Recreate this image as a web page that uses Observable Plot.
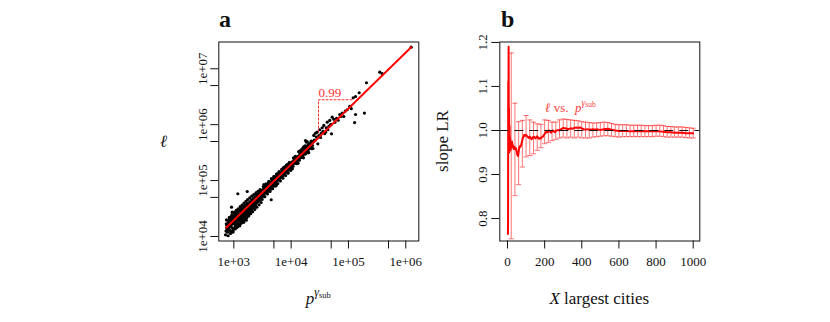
<!DOCTYPE html>
<html><head><meta charset="utf-8">
<script src="https://cdn.jsdelivr.net/npm/d3@7"></script>
<script src="https://cdn.jsdelivr.net/npm/@observablehq/plot@0.6"></script>
<style>
body{margin:0;background:#fff;}
#wrap{position:relative;width:830px;height:322px;overflow:hidden;background:#fff;}
#wrap svg{position:absolute;top:0;}
</style></head><body><div id="wrap"></div>
<script>
// ---------- Panel a data: [p^gamma_sub, l] ----------
const smallTowns = [
[730,12500],[760,15800],[780,11900],[800,18200],[810,13600],[830,16500],[850,20500],[860,12800],[880,15100],[900,19000],
[910,22800],[930,14200],[950,17600],[960,20400],[980,13700],[1000,16900],[1010,22100],[1030,25600],[1050,18700],[1060,15200],
[1080,20800],[1100,23600],[1120,17100],[1130,27900],[1150,19900],[1170,22600],[1190,16400],[1200,25100],[1220,18600],[1240,21300],
[1260,29800],[1280,24200],[1300,19300],[1320,27400],[1340,22900],[1360,31600],[1390,25700],[1410,20300],[1430,29100],[1460,24600],
[1480,34200],[1500,27800],[1530,22700],[1550,31900],[1580,36800],[1600,26900],[1630,30400],[1660,24800],[1690,35700],[1710,32100],
[1740,39200],[1770,28600],[1800,33900],[1830,37800],[1860,27300],[1900,41600],[1930,34700],[1960,31200],[2000,38900],[2040,45300],
[2080,35600],[2120,41800],[2150,32800],[2200,47900],[2240,39700],[2280,44600],[2320,36300],[2370,51200],[2410,42800],[2460,48100],
[2500,56200],[2550,40900],[2600,50300],[2650,45800],[2700,58400],[2760,43200],[2820,53700],[2880,62100],[2940,49500],[3000,57800],
[750,14300],[790,17100],[870,18100],[920,16400],[990,19600],[1040,13900],[1070,24100],[1110,19800],[1140,14600],[1180,21400],
[1210,28300],[1250,16300],[1290,21800],[1350,26000],[1370,18000],[1420,23700],[1470,19700],[1520,25200],[1560,20100],[1620,33400],
[1650,28900],[1700,23000],[1750,33000],[1790,25300],[1850,30400],[1880,35800],[1950,29100],[2020,33700],[2100,38400],[2180,43300],
[2260,34000],[2350,46300],[2430,38600],[2530,45600],[2620,41800],[2730,52000],[2850,47500],[2970,54000],
[740,16900],[770,13400],[820,19600],[840,14900],[890,21400],[940,18500],[970,23300],[1020,17800],[1090,15700],[1160,25800],
[1230,20700],[1270,15500],[1310,24500],[1380,30200],[1400,21900],[1450,27000],[1490,17900],[1540,29200],[1590,23400],[1640,21100],
[1680,31400],[1720,26700],[1780,36900],[1820,23500],[1870,32800],[1910,27600],[1980,35500],[2060,30100],[2140,36600],[2210,40300],
[2300,41100],[2390,35000],[2480,44000],[2580,52600],[2680,48700],[2790,45100],[2900,58900],[960,11900],[1320,33500],[1650,19500],
[745,19800],[795,10300],[835,21900],[875,11300],[925,24400],[975,12600],[1025,26900],[1065,13700],[1105,29400],[1155,14900],
[1195,31300],[1245,15800],[1295,34100],[1345,17200],[1395,36500],[1445,18600],[1505,39600],[1565,20100],[1625,42300],[1685,21800],
[1745,45700],[1815,23300],[1895,48900],[1975,25500],[2055,52500],[2135,27700],[2225,56000],[2325,30500],[2425,60000],[2525,33300],
[2635,64400],[2755,36800],[2875,69000],[2990,40500],
[765,14500],[815,15300],[865,17400],[915,18800],[965,17000],[1015,20300],[1075,19100],[1135,22300],[1195,20000],[1265,23800],
[1335,24400],[1405,25800],[1485,27400],[1575,28100],[1665,30400],[1765,31800],[1865,34500],[1965,37400],[2075,38000],[2195,40700],
[2315,44100],[2445,45900],[2575,48400],[2715,50500],[2865,53600],
[716,10700],[887,12300],[1175,58100],[1713,63800],[912,33400],[1115,29200],[938,27200],[4490,45400]
];
const midTowns = [
[3100,55800],[3150,67400],[3200,52100],[3260,63900],[3320,74100],[3380,57800],[3450,69000],[3520,61600],[3580,78800],[3650,66100],
[3720,74200],[3800,60800],[3870,84300],[3950,73100],[4030,67700],[4100,86100],[4180,79800],[4260,71600],[4350,93100],[4440,83500],
[4530,76100],[4620,99800],[4720,88300],[4820,97400],[4920,80700],[5030,104000],[5140,94600],[5250,112000],[5370,91300],[5490,107000],
[5610,121000],[5740,99300],[5870,114000],[6000,127000],[6140,105000],[6290,123000],[6440,137000],[6590,113000],[6750,131000],[6910,146000],
[7080,122000],[7250,140000],[7430,157000],[7610,131000],[7800,152000],[8000,169000],[8200,141000],[8410,163000],[8620,180000],[8840,152000],
[9070,177000],[9300,193000],[9540,165000],[9790,188000],[10000,206000],
[3230,60000],[3420,75100],[3690,71500],[3910,64800],[4210,89500],[4480,92500],[4780,84100],[5080,115000],[5420,101000],[5800,126000],
[6220,113000],[6670,140000],[7160,152000],[7700,139000],[8300,175000],[8950,167000],[9650,199000],
[3350,85000],[5500,82000],[7300,168000],[8800,136000],
[3050,64000],[3300,52500],[3600,82500],[4000,90000],[4400,70500],[4900,108000],[5300,89000],[5650,131000],[6100,138000],[6500,118000],
[7000,158000],[7500,128000],[8100,182000],[8500,148000],[9200,205000],[9900,172000],
[3120,46000],[3280,78000],[3470,51500],[3660,87000],[3860,57500],[4070,97000],[4290,64000],[4520,108000],[4760,71500],[5010,119000],
[5280,79500],[5560,131000],[5850,88500],[6160,144000],[6490,98500],[6840,159000],[7200,110000],[7590,175000],[8000,123000],[8430,193000],
[8880,137000],[9360,212000],[9850,152000],
[3180,58800],[3540,67200],[3760,69600],[4140,76600],[4570,84600],[5190,99700],[5960,111000],[6830,126000],[7860,143000],[9010,165000],
[3400,64700],[4660,90000],[6350,118000],[8660,162000]
];
const towns = [
[10300,184000],[10600,218000],[10900,199000],[11200,233000],[11500,204000],[11900,241000],[12200,222000],[12600,262000],[13000,231000],[13400,274000],
[13800,251000],[14300,292000],[14700,258000],[15200,311000],[15700,283000],[16200,334000],[16700,299000],[17300,352000],[17900,318000],[18500,376000],
[19100,339000],[19800,405000],[20500,368000],[21200,429000],[22000,391000],[22800,462000],[23600,424000],[24500,496000],
[11000,255000],[12800,205000],[14000,318000],[16000,262000],[18000,402000],[19500,316000],[21000,470000],[23000,372000],[12000,263000],[15000,275000],
[17000,380000],[20000,440000],[13500,330000],[15500,370000],[17500,420000],[19000,500000],[16500,400000],[14500,345000],[17800,521000],[18500,486000],
[10500,163000],[11800,270000],[13200,205000],[14800,338000],[16400,255000],[18200,415000],[20200,316000],[22400,510000],[24000,375000],[25300,530000],
[10800,180000],[12400,200000],[13900,232000],[15600,262000],[17600,296000],[19700,333000],[22200,378000]
];
const cities = [
[24800,641000],[26000,520000],[26600,705000],[27500,600000],[28500,735000],[29200,455000],[30500,640000],[31600,811000],[32500,590000],[33500,700000],
[34800,881000],[36000,760000],[37200,968000],[38500,690000],[39800,735000],[41000,880000],[42600,1110000],[43700,811000],[45500,930000],[47200,1190000],
[48500,990000],[50000,1010000],[50600,687000],[52000,1360000],[55500,1250000],[58000,1100000],[62000,1300000],[66000,1200000],[70600,1520000],[74000,1400000],
[77800,1610000],[83000,1400000],[88000,1750000],[95000,1850000]
];
const bigCities = [
[105000,2120000],[112000,1930000],[121000,3030000],[128000,1090000],[133000,3190000],[133000,1520000],[154000,3720000],[190000,1610000],
[206000,5620000],[352000,8690000],[387000,8150000],[1242000,24300000]
];
const fitPop = [736, 1242000];
const fitLen = [14320, 24300000];
const slopeMarkPop = [30000, 30000, 116000];
const slopeMarkLen = [735000, 2790000, 2790000];
const slopeText = ["0.99"];
const aXTicks = [1e3, 5e3, 1e4, 5e4, 1e5, 5e5, 1e6];
const aXTickLabels = ["1e+03", "", "1e+04", "", "1e+05", "", "1e+06"];
const aYTicks = [1e4, 5e4, 1e5, 5e5, 1e6, 5e6, 1e7];
const aYTickLabels = ["1e+04", "", "1e+05", "", "1e+06", "", "1e+07"];

// ---------- Panel b data ----------
const slopeSeries = [
[2,.765],[3,.79],[4,1.11],[5,1.03],[6,1.19],[7,.99],[8,1.05],[9,.95],[10,.99],[11,1.01],[12,.955],[13,.985],[14,.965],[15,.975],[16,.955],[17,.97],[18,.96],[19,.972],[20,.962],
[22,.968],[24,.975],[26,.97],[28,.962],[30,.966],[33,.958],[36,.963],[39,.962],[42,.958],[45,.96],[48,.955],[51,.948],[54,.944],[57,.942],[60,.952],[63,.96],[66,.964],
[70,.963],[74,.968],[78,.975],[82,.982],[86,.986],[90,.99],[95,.988],[100,.99],[105,.987],[110,.985],[115,.983],[120,.986],[125,.984],[130,.98],[135,.983],[140,.986],
[145,.985],[150,.982],[155,.984],[160,.987],[165,.983],[170,.981],[175,.983],[180,.982],[185,.985],[190,.986],[195,.989],[200,.992],[205,.995],[210,.997],[215,.996],
[220,.998],[225,1.0],[230,.997],[235,.995],[240,.998],[245,1.0],[250,.998],[255,.996],[260,.999],[270,1.001],[280,1.0],[290,1.003],[300,1.006],[310,1.005],[320,1.004],
[330,1.003],[340,1.005],[350,1.004],[360,1.006],[370,1.007],[380,1.006],[390,1.007],[400,1.005],[410,1.003],[420,1.002],[430,1.003],[440,1.002],[450,1.002],[460,1.003],
[470,1.002],[480,1.002],[490,1.002],[500,1.001],[520,1.003],[540,1.004],[560,1.002],[580,1.0],[600,.999],[620,.999],[640,.999],[660,.998],[680,.998],[700,.998],
[720,.998],[740,.998],[760,.998],[780,.998],[800,.999],[820,.998],[840,.997],[860,.996],[880,.996],[900,.995],[920,.995],[940,.995],[960,.994],[980,.994],[1000,.994]
];
const errorBars = [
[20,.754,1.176],[40,.852,1.062],[60,.877,1.020],[80,.917,1.023],[100,.940,1.034],[120,.943,1.024],[140,.947,1.019],[160,.955,1.015],[180,.961,1.014],[200,.970,1.024],
[220,.973,1.023],[240,.977,1.019],[260,.980,1.019],[280,.983,1.024],[300,.985,1.026],[320,.983,1.025],[340,.985,1.024],[360,.983,1.023],[380,.985,1.022],[400,.983,1.020],
[420,.983,1.019],[440,.983,1.018],[460,.985,1.017],[480,.986,1.017],[500,.987,1.018],[520,.988,1.019],[540,.988,1.018],[560,.987,1.016],[580,.986,1.014],[600,.985,1.013],
[620,.986,1.013],[640,.986,1.013],[660,.986,1.012],[680,.986,1.012],[700,.986,1.012],[720,.986,1.012],[740,.986,1.011],[760,.986,1.011],[780,.986,1.011],[800,.987,1.012],
[820,.987,1.012],[840,.986,1.011],[860,.985,1.009],[880,.985,1.009],[900,.985,1.008],[920,.985,1.008],[940,.985,1.008],[960,.984,1.007],[980,.983,1.006],[1000,.983,1.005]
];
const refSlope = [1];
const bLabelPos = [204.6, 1.0416];
const bXTicks = [0, 200, 400, 600, 800, 1000];
const bXTickLabels = ["0", "200", "400", "600", "800", "1000"];
const bYTicks = [0.8, 0.9, 1.0, 1.1, 1.2];
const bYTickLabels = ["0.8", "0.9", "1.0", "1.1", "1.2"];

// ---------- helpers ----------
const FONT = "'Liberation Serif', 'Times New Roman', serif";
const styleBase = {fontFamily: FONT, fontSize: "13px", color: "#111", background: "transparent", overflow: "visible"};
function labeller(ticks, labels) { const m = new Map(ticks.map((t, i) => [t, labels[i]])); return d => m.get(d) ?? ""; }
function addText(svg, opt, parts) {
  const t = d3.select(svg).append("text")
    .attr("x", opt.x).attr("y", opt.y)
    .attr("text-anchor", opt.anchor || "middle")
    .attr("font-family", FONT)
    .attr("fill", opt.fill || "#111")
    .attr("font-size", opt.size || 17);
  if (opt.weight) t.attr("font-weight", opt.weight);
  if (opt.rotate) t.attr("transform", `rotate(${opt.rotate},${opt.x},${opt.y})`);
  for (const p of parts) {
    const s = t.append("tspan").text(p.t);
    if (p.size) s.attr("font-size", p.size);
    if (p.italic) s.attr("font-style", "italic");
    if (p.dy) s.attr("dy", p.dy);
    if (p.dx) s.attr("dx", p.dx);
  }
  return t;
}
const capSymbol = {draw(ctx) { ctx.moveTo(-2.6, 0); ctx.lineTo(2.6, 0); }};

// ---------- Panel a ----------
const scatter = smallTowns.concat(midTowns, towns, cities, bigCities);
const fitRows = fitPop.map((p, i) => ({p, l: fitLen[i]}));
const markRows = slopeMarkPop.map((p, i) => ({p, l: slopeMarkLen[i]}));

const svgA = Plot.plot({
  width: 280, height: 322,
  marginLeft: 68.3, marginRight: 11.7, marginTop: 41.5, marginBottom: 81.5,
  style: styleBase,
  x: {type: "log", domain: [547, 1.687e6]},
  y: {type: "log", domain: [8300, 3.01e7]},
  marks: [
    Plot.dot(scatter, {x: d => d[0], y: d => d[1], r: 1.6, fill: "#000", stroke: "none"}),
    Plot.line(fitRows, {x: "p", y: "l", stroke: "#ff0000", strokeWidth: 1.9}),
    Plot.line(markRows, {x: "p", y: "l", stroke: "#ff2a2a", strokeWidth: 1, strokeDasharray: "2,2"}),
    Plot.text(slopeText, {x: [slopeMarkPop[1]], y: [slopeMarkLen[1]], text: d => d, textAnchor: "start", lineAnchor: "bottom", dy: -2.6, fill: "#ff3333", fontSize: 13}),
    Plot.frame({stroke: "#111", strokeWidth: 1}),
    Plot.axisX({ticks: aXTicks, tickFormat: labeller(aXTicks, aXTickLabels), tickSize: 8, tickPadding: 8, label: null, fontSize: 13, stroke: "#111"}),
    Plot.axisY({ticks: aYTicks, tickFormat: labeller(aYTicks, aYTickLabels), tickSize: 8, tickPadding: 3.5, tickRotate: -90, textAnchor: "middle", lineAnchor: "bottom", label: null, fontSize: 13, stroke: "#111"})
  ]
});
svgA.style.left = "150px";
document.getElementById("wrap").appendChild(svgA);
addText(svgA, {x: 69, y: 26.5, anchor: "start", size: 24, weight: "bold"}, [{t: "a"}]);
addText(svgA, {x: 13.5, y: 146.5, size: 17}, [{t: "ℓ", italic: true}]);
addText(svgA, {x: 168.3, y: 303.5, size: 17}, [{t: "p", italic: true}, {t: "γ", size: 12, italic: true, dy: -7.5}, {t: "sub", size: 8.5, dy: 1.5}]);

// ---------- Panel b ----------
const lineRows = slopeSeries.map(d => ({n: d[0], s: d[1]}));
const barRows = errorBars.map(d => ({n: d[0], lo: d[1], hi: d[2]}));
const svgB = Plot.plot({
  width: 290, height: 322,
  marginLeft: 69.3, marginRight: 20.7, marginTop: 41.5, marginBottom: 81.5,
  style: styleBase,
  x: {domain: [-41.5, 1035.5]},
  y: {domain: [0.749, 1.201]},
  marks: [
    Plot.ruleX(barRows, {x: "n", y1: "lo", y2: "hi", stroke: "#ff0000", strokeOpacity: 0.55, strokeWidth: 1}),
    Plot.dot(barRows, {x: "n", y: "lo", symbol: capSymbol, stroke: "#ff0000", strokeOpacity: 0.55, fill: "none", strokeWidth: 1}),
    Plot.dot(barRows, {x: "n", y: "hi", symbol: capSymbol, stroke: "#ff0000", strokeOpacity: 0.55, fill: "none", strokeWidth: 1}),
    Plot.line(lineRows, {x: "n", y: "s", stroke: "#ff0000", strokeWidth: 2}),
    Plot.ruleY(refSlope, {stroke: "#111", strokeWidth: 1, strokeDasharray: "9,6"}),
    Plot.frame({stroke: "#111", strokeWidth: 1}),
    Plot.axisX({ticks: bXTicks, tickFormat: labeller(bXTicks, bXTickLabels), tickSize: 8, tickPadding: 8, label: null, fontSize: 13, stroke: "#111"}),
    Plot.axisY({ticks: bYTicks, tickFormat: labeller(bYTicks, bYTickLabels), tickSize: 8, tickPadding: 4.5, tickRotate: -90, textAnchor: "middle", lineAnchor: "bottom", label: null, fontSize: 13, stroke: "#111"})
  ]
});
svgB.style.left = "430px";
document.getElementById("wrap").appendChild(svgB);
addText(svgB, {x: 71, y: 26.5, anchor: "start", size: 24, weight: "bold"}, [{t: "b"}]);
addText(svgB, {x: 18, y: 141, size: 17, rotate: -90}, [{t: "slope LR"}]);
addText(svgB, {x: 169.3, y: 304, size: 17}, [{t: "X", italic: true}, {t: " largest cities"}]);
const bx = svgB.scale("x").apply(bLabelPos[0]);
const by = svgB.scale("y").apply(bLabelPos[1]);
addText(svgB, {x: bx, y: by, anchor: "start", size: 13, fill: "#ff4040"},
  [{t: "ℓ", italic: true}, {t: " vs.  "}, {t: "p", italic: true}, {t: "γ", size: 9.5, italic: true, dy: -5.5}, {t: "sub", size: 7.5, dy: 1}]);
</script></body></html>
